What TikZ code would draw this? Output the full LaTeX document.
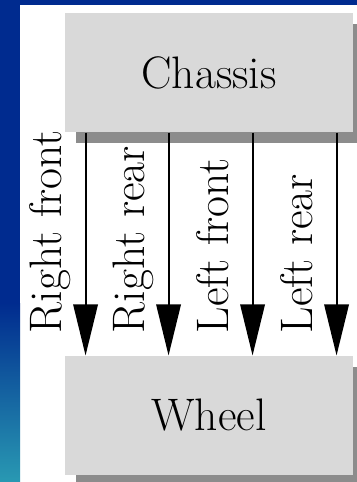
\documentclass[tikz,border=0pt]{standalone}
\usepackage{tikz}
\usetikzlibrary{arrows.meta,positioning,calc,shadows}
\definecolor{slideblue}{rgb}{0.00,0.17,0.56}
\definecolor{slideteal}{rgb}{0.16,0.60,0.70}
\definecolor{boxgray}{rgb}{0.85,0.85,0.85}

\begin{document}
\begin{tikzpicture}[x=0.45pt,y=-0.45pt,font=\fontsize{20.5}{24}\selectfont,
   blk/.style={fill=boxgray,minimum width=129.6pt,minimum height=53.6pt,inner sep=0pt,
     drop shadow={shadow xshift=5pt,shadow yshift=-5pt,fill=black!45,opacity=1}},
   link/.style={line width=0.9pt,-{Triangle[length=23pt,width=11pt]}},
   lbl/.style={rotate=90,anchor=base west,inner sep=0pt}]
  % slide frame
  \fill[white] (0,0) rectangle (357,482);
  \fill[slideblue] (0,0) rectangle (357,5);
  \fill[slideblue] (0,0) rectangle (20,303);
  \shade[top color=slideblue,bottom color=slideteal] (0,303) rectangle (20,482);
  \useasboundingbox (0,0) rectangle (357,482);

  \node[blk] (chassis) at (209,72.5) {Chassis};
  \node[blk,below=100.35pt of chassis] (wheel) {Wheel};

  % one arrow per wheel, label on its left
  \foreach \dx/\txt in {21/Right front,104/Right rear,188/Left front,272/Left rear}{
    \draw[link] ($(chassis.south west)+(\dx,0)$) coordinate (top\dx)
      -- (top\dx |- wheel.north);
    \node[lbl] at ($(top\dx |- wheel.north)+(-24,-22)$) {\txt};
  }
\end{tikzpicture}
\end{document}
